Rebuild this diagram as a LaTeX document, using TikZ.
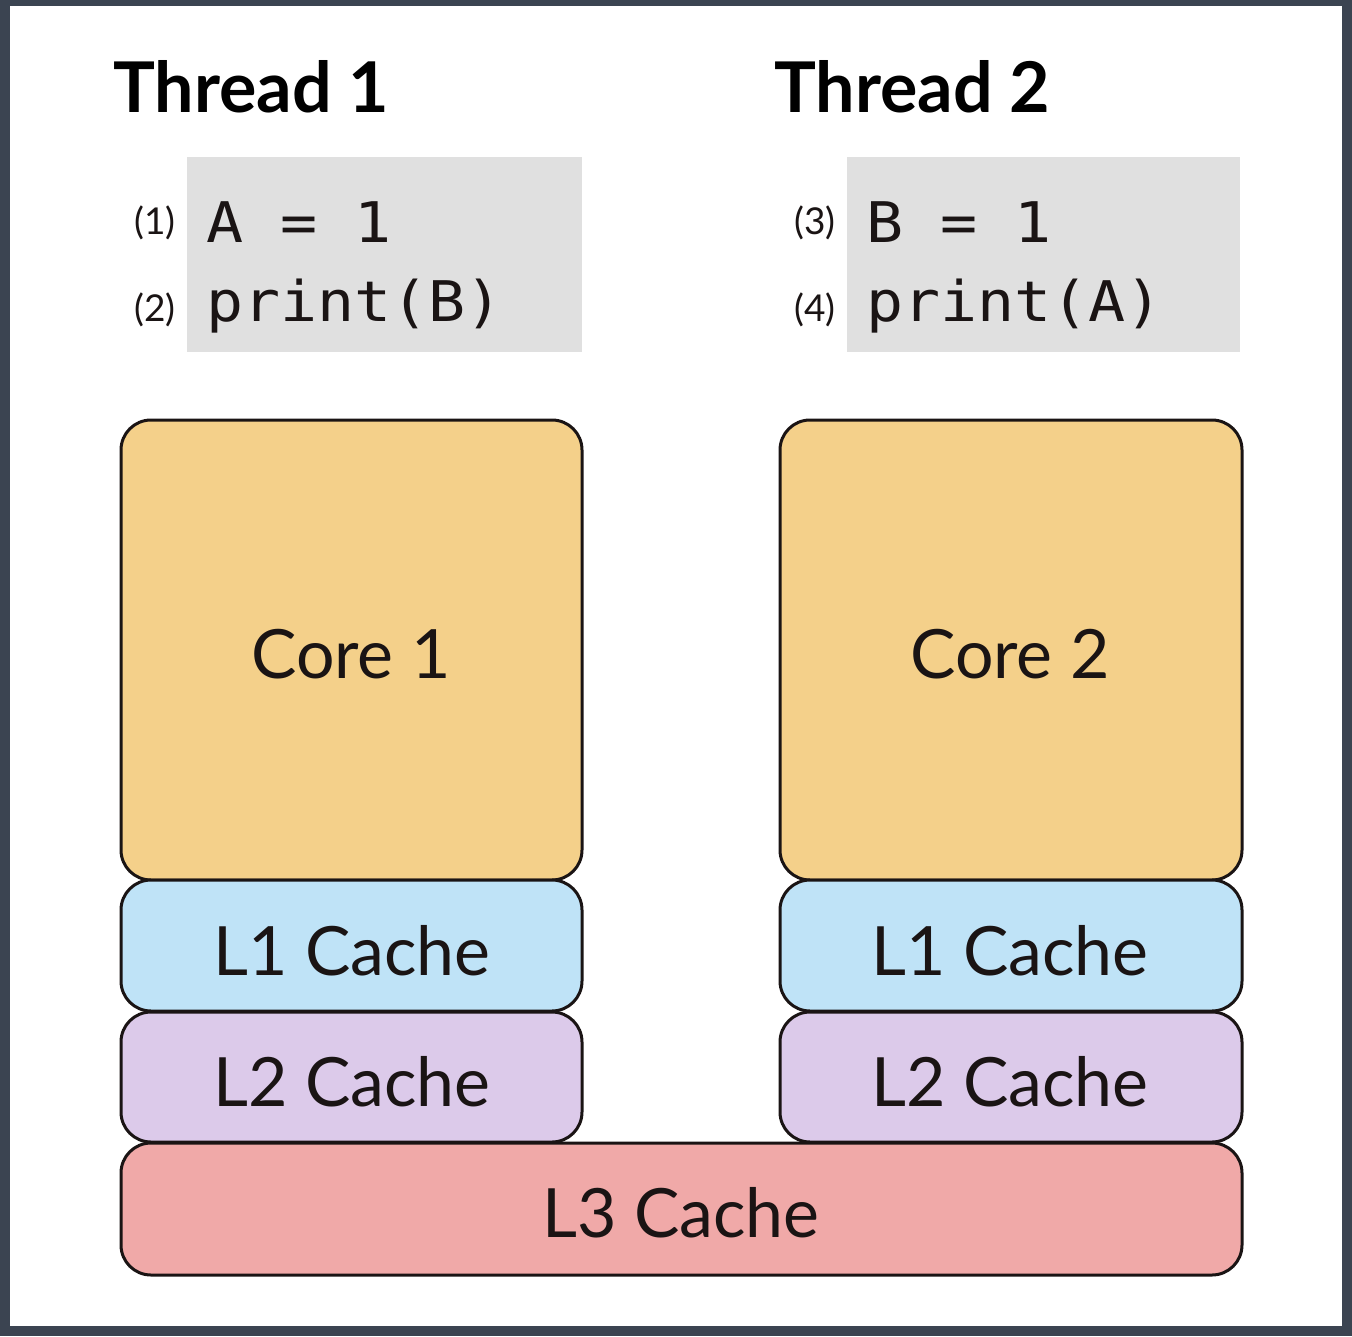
\documentclass[tikz,border=0pt]{standalone}
\usepackage{fontspec}
\setmainfont{Lato}
\newfontfamily\codefont[FakeStretch=1.1]{DejaVu Sans Mono}
\definecolor{frame}{HTML}{3B4451}
\definecolor{corefill}{HTML}{F4D08A}
\definecolor{lonefill}{HTML}{BFE3F7}
\definecolor{ltwofill}{HTML}{DCCAEA}
\definecolor{lthreefill}{HTML}{F0A9A8}
\definecolor{codegray}{HTML}{E0E0E0}
\definecolor{ink}{HTML}{1A1414}
\begin{document}
\begin{tikzpicture}[x=1pt,y=-1pt,
  unitbox/.style={draw=ink,line width=3pt,rounded corners=30pt},
  boxtext/.style={anchor=base,inner sep=0pt,font=\fontsize{68}{80}\selectfont,text=ink},
  titletext/.style={anchor=base west,inner sep=0pt,font=\bfseries\fontsize{70}{84}\selectfont},
  codetext/.style={anchor=base west,inner sep=0pt,font=\codefont\fontsize{56}{64}\selectfont,text=ink},
  steplabel/.style={anchor=base east,inner sep=0pt,font=\fontsize{37}{44}\selectfont,text=ink}]
\useasboundingbox (0,0) rectangle (1352,1336);
\fill[frame] (0,0) rectangle (1352,1336);
\fill[white] (10,6) rectangle (1342,1326);

% titles
\node[titletext] (t1) at (113,112) {Thread 1};
\node[titletext] (t2) at (774,112) {Thread 2};

% code boxes
\fill[codegray] (187,157) rectangle (582,352);
\fill[codegray] (847,157) rectangle (1240,352);
\node[steplabel] (s1) at (176,234) {(1)};
\node[steplabel] (s2) at (176,321) {(2)};
\node[codetext] (c1) at (206,242) {A = 1};
\node[codetext] (c2) at (206,321) {print(B)};
\node[steplabel] (s3) at (836,234) {(3)};
\node[steplabel] (s4) at (836,321) {(4)};
\node[codetext] (c3) at (866,242) {B = 1};
\node[codetext] (c4) at (866,321) {print(A)};

% core 1 stack
\draw[unitbox,fill=corefill] (121,420) rectangle (582,880);
\draw[unitbox,fill=lonefill] (121,880) rectangle (582,1011);
\draw[unitbox,fill=ltwofill] (121,1012) rectangle (582,1142);
% core 2 stack
\draw[unitbox,fill=corefill] (780,420) rectangle (1242,880);
\draw[unitbox,fill=lonefill] (780,880) rectangle (1242,1011);
\draw[unitbox,fill=ltwofill] (780,1012) rectangle (1242,1142);
% L3
\draw[unitbox,fill=lthreefill] (121,1143) rectangle (1242,1275);

\node[boxtext] (core1) at (351,678) {Core 1};
\node[boxtext] (core2) at (1010,678) {Core 2};
\node[boxtext] (l1a) at (352,975) {L1 Cache};
\node[boxtext] (l1b) at (1010,975) {L1 Cache};
\node[boxtext] (l2a) at (352,1106) {L2 Cache};
\node[boxtext] (l2b) at (1010,1106) {L2 Cache};
\node[boxtext] (l3) at (681,1237) {L3 Cache};
\end{tikzpicture}
\end{document}
